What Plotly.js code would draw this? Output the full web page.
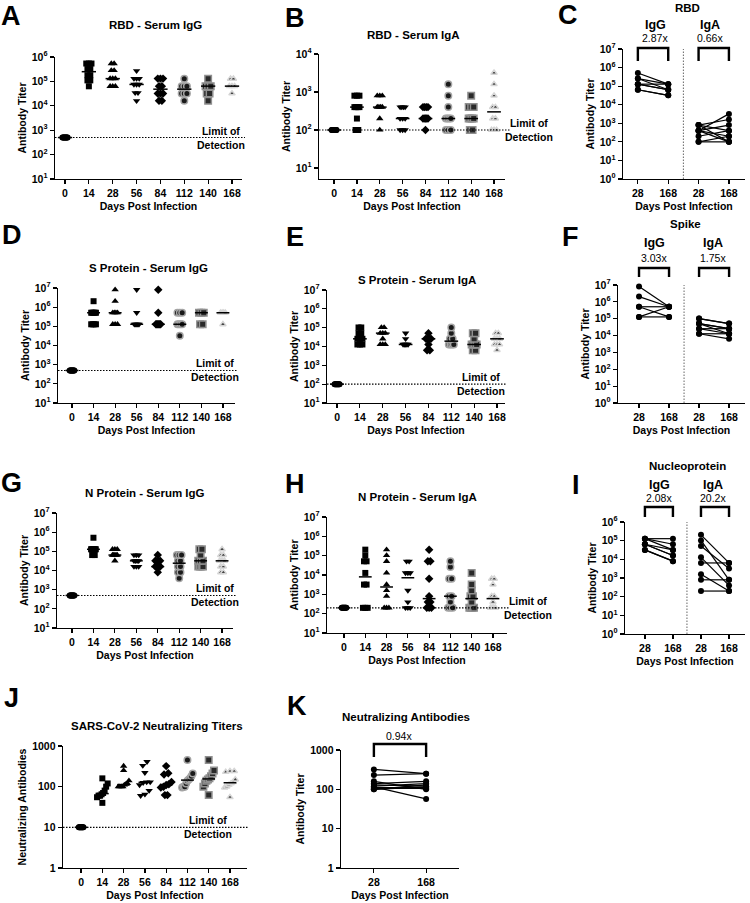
<!DOCTYPE html>
<html><head><meta charset="utf-8">
<script src="https://cdn.plot.ly/plotly-3.0.1.min.js"></script>
<style>html,body{margin:0;padding:0;background:#fff}#chart{width:750px;height:903px}</style>
</head><body><div id="chart"></div>
<script>
const W = 750, H = 903;
const FONT = 'Liberation Sans, Arial, Helvetica, sans-serif';

// ---------- categories / tick labels ----------
const dayLabels = ['0','14','28','56','84','112','140','168'];
const pairLabels = ['28','168','28','168'];
const pairLabelsK = ['28','168'];

// ---------- A: RBD - Serum IgG ----------
const rbdIgG_d0   = [500,500,500,500,500,500,500,500,500,500];
const rbdIgG_d14  = [540000,540000,540000,320000,320000,180000,180000,110000,110000,63000];
const rbdIgG_d28  = [540000,540000,280000,280000,130000,130000,130000,63000,63000,63000];
const rbdIgG_d56  = [270000,130000,130000,130000,75000,75000,75000,34000,34000,16000];
const rbdIgG_d84  = [130000,130000,130000,64000,64000,32000,32000,32000,16000,16000];
const rbdIgG_d112 = [128000,64000,64000,64000,32000,32000,32000,16000];
const rbdIgG_d140 = [128000,64000,64000,64000,32000,32000,16000];
const rbdIgG_d168 = [128000,128000,64000,64000,64000,32000];

// ---------- B: RBD - Serum IgA ----------
const rbdIgA_d0   = [100,100,100,100,100,100,100,100,100,100];
const rbdIgA_d14  = [800,800,800,400,400,400,400,200,100,100];
const rbdIgA_d28  = [800,800,800,400,400,400,400,200,100];
const rbdIgA_d56  = [400,400,400,400,200,200,200,100,100,100];
const rbdIgA_d84  = [400,400,400,400,200,200,200,200,200,100];
const rbdIgA_d112 = [1600,800,400,200,200,200,200,100,100,100];
const rbdIgA_d140 = [800,400,400,400,200,200,200,200,100,100];
const rbdIgA_d168 = [3200,1600,800,400,400,200,200,100,100,100];

// ---------- C: RBD paired 28 vs 168 ----------
const cIgG28  = [512000,256000,256000,128000,128000,128000,64000,64000];
const cIgG168 = [128000,128000,64000,128000,64000,64000,32000,32000];
const cIgA28  = [400,800,400,200,800,400,100,800,400,100];
const cIgA168 = [3200,1600,800,400,400,200,200,100,100,100];
const cFold = ['2.87x','0.66x'];

// ---------- D: S Protein - Serum IgG ----------
const sIgG_d0   = [500,500,500,500,500,500,500,500,500,500];
const sIgG_d14  = [2048000,512000,512000,512000,512000,512000,128000,128000,128000,128000];
const sIgG_d28  = [8192000,2048000,512000,512000,512000,512000,128000,128000,128000];
const sIgG_d56  = [8192000,512000,128000,128000,128000,128000,128000,128000];
const sIgG_d84  = [8192000,512000,128000,128000,128000,128000,128000,128000];
const sIgG_d112 = [512000,512000,512000,128000,128000,128000,128000,32000];
const sIgG_d140 = [512000,512000,512000,128000,128000];
const sIgG_d168 = [512000,512000,512000,512000,128000];

// ---------- E: S Protein - Serum IgA ----------
const sIgA_d0   = [100,100,100,100,100,100,100,100,100,100];
const sIgA_d14  = [102400,102400,51200,51200,25600,25600,25600,12800,12800,12800];
const sIgA_d28  = [102400,102400,51200,51200,51200,25600,12800,12800,12800];
const sIgA_d56  = [51200,25600,12800,12800,12800,12800,12800];
const sIgA_d84  = [51200,25600,25600,25600,25600,12800,6400,6400];
const sIgA_d112 = [102400,51200,25600,25600,12800,12800,12800,12800];
const sIgA_d140 = [51200,51200,25600,12800,12800,12800,12800,6400,6400];
const sIgA_d168 = [51200,51200,25600,25600,25600,12800,12800,12800,6400];

// ---------- F: Spike paired ----------
const fIgG28  = [8192000,2048000,512000,512000,128000,128000];
const fIgG168 = [512000,512000,512000,128000,512000,128000];
const fIgA28  = [102400,102400,51200,51200,25600,25600,12800,12800,51200];
const fIgA168 = [51200,51200,25600,25600,12800,25600,12800,6400,12800];
const fFold = ['3.03x','1.75x'];

// ---------- G: N Protein - Serum IgG ----------
const nIgG_d0   = [500,500,500,500,500,500,500,500,500,500];
const nIgG_d14  = [512000,128000,128000,128000,128000,128000,128000,128000,64000,64000];
const nIgG_d28  = [128000,128000,128000,64000,64000,64000,64000,64000,32000];
const nIgG_d56  = [64000,64000,64000,32000,32000,32000,32000,16000,16000,16000];
const nIgG_d84  = [64000,32000,32000,32000,16000,16000,16000,16000,8000];
const nIgG_d112 = [64000,64000,64000,32000,32000,16000,16000,8000,8000,4000];
const nIgG_d140 = [128000,128000,64000,32000,32000,32000,16000,16000,16000,16000];
const nIgG_d168 = [128000,64000,64000,32000,32000,32000,16000,16000,8000,8000];

// ---------- H: N Protein - Serum IgA ----------
const nIgA_d0   = [200,200,200,200,200,200,200,200,200,200];
const nIgA_d14  = [204800,102400,51200,51200,12800,3200,3200,200,200,200];
const nIgA_d28  = [204800,102400,51200,12800,3200,1600,800,200,200,200];
const nIgA_d56  = [51200,51200,12800,12800,12800,1600,400,200,200,200];
const nIgA_d84  = [204800,51200,51200,6400,800,400,400,200,200,200];
const nIgA_d112 = [51200,25600,6400,6400,800,800,400,200,200,200];
const nIgA_d140 = [12800,3200,1600,800,800,400,200,200,200,200];
const nIgA_d168 = [6400,6400,3200,800,800,400,200,200,200,200];

// ---------- I: Nucleoprotein paired ----------
const iIgG28  = [128000,128000,128000,64000,64000,64000,32000,32000];
const iIgG168 = [128000,64000,32000,32000,16000,16000,8000,8000];
const iIgA28  = [204800,102400,51200,12800,6400,1600,800,200];
const iIgA168 = [6400,800,3200,400,6400,200,800,200];
const iFold = ['2.08x','20.2x'];

// ---------- J: SARS-CoV-2 Neutralizing Titers ----------
const nt_d0   = [10,10,10,10,10,10,10,10,10,10];
const nt_d14  = [160,120,100,80,70,65,60,60,55,40];
const nt_d28  = [320,250,140,120,115,110,100,100,100,100];
const nt_d56  = [410,330,220,130,130,125,110,80,65,60];
const nt_d84  = [320,215,200,130,115,110,100,95,62,62];
const nt_d112 = [450,210,180,160,150,140,120,100,100,95];
const nt_d140 = [450,250,210,180,160,150,140,120,100,62];
const nt_d168 = [240,240,230,150,130,120,110,100,95,55];

// ---------- K: Neutralizing Antibodies paired ----------
const kNt28  = [320,230,160,140,130,120,115,110,105,100,100];
const kNt168 = [250,250,100,160,120,140,57,110,105,115,130];
const kFold = ['0.94x'];

// ---------- limits of detection ----------
const lodA = 500, lodB = 100, lodD = 500, lodE = 100, lodG = 500, lodH = 200, lodJ = 10;

// =================================================================
const traces = [], shapes = [], annotations = [];
const layout = {
  width: W, height: H, margin: {l:0, r:0, t:0, b:0},
  paper_bgcolor: '#fff', plot_bgcolor: 'rgba(0,0,0,0)', showlegend: false,
  font: {family: FONT, color: '#000'}, shapes, annotations
};
const PX = x => x / W, PY = y => 1 - y / H;

const STY = [
  {symbol:'circle', size:6, color:'#000', lc:'#000', lw:0},
  {symbol:'square', size:6, color:'#000', lc:'#000', lw:0},
  {symbol:'triangle-up', size:6.5, color:'#000', lc:'#000', lw:0},
  {symbol:'triangle-down', size:6.5, color:'#000', lc:'#000', lw:0},
  {symbol:'diamond', size:6.5, color:'#000', lc:'#000', lw:0},
  {symbol:'circle', size:6.5, color:'#1a1a1a', lc:'#a4a4a4', lw:1.5},
  {symbol:'square', size:6.5, color:'#2a2a2a', lc:'#909090', lw:1.5},
  {symbol:'triangle-up', size:5.5, color:'#444', lc:'#d6d6d6', lw:1.5}
];

function median(a){
  const s = a.slice().sort((p,q)=>p-q), n = s.length;
  return n % 2 ? s[(n-1)/2] : (s[n/2-1] + s[n/2]) / 2;
}

function swarm(vals, center, thr, stepNear, spanNear){
  const s = vals.slice().sort((p,q)=>p-q);
  const clusters = []; let cur = [s[0]];
  for (let k = 1; k < s.length; k++){
    if (Math.log10(s[k]) - Math.log10(cur[cur.length-1]) < thr) cur.push(s[k]);
    else { clusters.push(cur); cur = [s[k]]; }
  }
  clusters.push(cur);
  const x = [], y = [];
  clusters.forEach(c => {
    const n = c.length;
    const same = c.every(v => v === c[0]);
    let step = 0;
    if (n > 1) step = same ? Math.min(0.12, 0.22/(n-1)) : Math.min(stepNear, spanNear/(n-1));
    c.forEach((v,k) => { x.push(center + (k-(n-1)/2)*step); y.push(v); });
  });
  return {x, y};
}

function sfx(n){ return n === 1 ? '' : String(n); }

function logTicks(lo, hi, plain){
  const v = [], t = [];
  for (let k = lo; k <= hi; k++){ v.push(Math.pow(10,k)); t.push(plain ? String(Math.pow(10,k)) : '10<sup>'+k+'</sup>'); }
  return {v, t};
}

const tickFont = {family: FONT, size: 10.5, color: '#000', weight: 'bold'};
const titleFont = {family: FONT, size: 10.5, color: '#000', weight: 'bold'};

function axes(n, c){
  const s = sfx(n);
  const lt = logTicks(c.tlo, c.thi, c.plain);
  layout['xaxis'+s] = {
    domain: [PX(c.x0), PX(c.x1)], range: c.xr, anchor: 'y'+s,
    showline: true, linecolor: '#000', linewidth: 1.4,
    ticks: 'outside', ticklen: 4, tickwidth: 1.2, tickcolor: '#000',
    tickmode: 'array', tickvals: c.tv, ticktext: c.tt, tickfont: tickFont,
    showgrid: false, zeroline: false, automargin: false, fixedrange: true,
    title: {text: 'Days Post Infection', font: titleFont, standoff: 4}
  };
  layout['yaxis'+s] = {
    domain: [PY(c.yb), PY(c.yt)], range: c.yr, type: 'log', anchor: 'x'+s,
    showline: true, linecolor: '#000', linewidth: 1.4,
    ticks: 'outside', ticklen: 4, tickwidth: 1.2, tickcolor: '#000',
    tickmode: 'array', tickvals: lt.v, ticktext: lt.t, tickfont: tickFont,
    showgrid: false, zeroline: false, automargin: false, fixedrange: true,
    title: {text: c.ytitle, font: titleFont, standoff: 3}
  };
}

function dotPanel(n, groups, opt){
  const s = sfx(n);
  groups.forEach((vals, i) => {
    const st = STY[i];
    const p = swarm(vals, i, opt.thr, opt.stepNear, opt.spanNear);
    traces.push({type:'scatter', mode:'markers', x:p.x, y:p.y, xaxis:'x'+s, yaxis:'y'+s,
      marker:{symbol:st.symbol, size:st.size, color:st.color, line:{color:st.lc, width:st.lw}},
      hoverinfo:'skip', cliponaxis:false});
  });
  const mx = [], my = [];
  groups.forEach((vals, i) => { const m = median(vals); mx.push(i-0.3, i+0.3, null); my.push(m, m, null); });
  traces.push({type:'scatter', mode:'lines', x:mx, y:my, xaxis:'x'+s, yaxis:'y'+s,
    line:{color:'#000', width:1.5}, hoverinfo:'skip'});
}

function pairPanel(n, a, b, x0){
  const s = sfx(n);
  for (let k = 0; k < a.length; k++){
    traces.push({type:'scatter', mode:'lines+markers', x:[x0, x0+1], y:[a[k], b[k]],
      xaxis:'x'+s, yaxis:'y'+s, line:{color:'#000', width:1.2},
      marker:{symbol:'circle', size:6, color:'#000'}, hoverinfo:'skip', cliponaxis:false});
  }
}

function ann(text, x, y, size, bold, extra){
  annotations.push(Object.assign({text, xref:'paper', yref:'paper', x:PX(x), y:PY(y),
    showarrow:false, xanchor:'center', yanchor:'middle',
    font:{family:FONT, size, color:'#000', weight: bold ? 'bold' : 'normal'}}, extra || {}));
}

function lod(n, val, xs, xe, cx){
  const s = sfx(n);
  shapes.push({type:'line', xref:'paper', yref:'y'+s, x0:PX(xs), x1:PX(xe),
    y0:val, y1:val, line:{color:'#000', width:1.1, dash:'1.5px,1.5px'}});
  annotations.push({text:'Limit of<br>Detection', xref:'paper', yref:'y'+s, x:PX(cx), y:Math.log10(val),
    showarrow:false, xanchor:'center', yanchor:'middle', align:'center',
    font:{family:FONT, size:10.5, color:'#000', weight:'bold'}});
}

function bracket(n, xa, xb, top, bot){
  const s = sfx(n);
  shapes.push({type:'path', xref:'x'+s, yref:'paper',
    path:`M ${xa},${PY(bot)} L ${xa},${PY(top)} L ${xb},${PY(top)} L ${xb},${PY(bot)}`,
    line:{color:'#000', width:2.4}});
}

function separator(n){
  const s = sfx(n);
  shapes.push({type:'line', xref:'x'+s, yref:'y'+s+' domain', x0:1.5, x1:1.5, y0:0, y1:1,
    line:{color:'#666', width:1, dash:'1.5px,1.5px'}});
}

const dayTv = [0,1,2,3,4,5,6,7];
const dotOpt = {thr:0.05, stepNear:0.12, spanNear:0.22};
const ntOpt = {thr:0.1, stepNear:0.2, spanNear:0.5};

// ---- A ----
axes(1, {x0:55, x1:242, yt:57, yb:179, xr:[-0.42,7.42], yr:[1,6], tlo:1, thi:6, tv:dayTv, tt:dayLabels, ytitle:'Antibody Titer'});
dotPanel(1, [rbdIgG_d0, rbdIgG_d14, rbdIgG_d28, rbdIgG_d56, rbdIgG_d84, rbdIgG_d112, rbdIgG_d140, rbdIgG_d168], dotOpt);
lod(1, lodA, 55, 245, 221);
ann('A', 11, 16, 27, true); ann('RBD - Serum IgG', 155, 25, 11.5, true);

// ---- B ----
axes(2, {x0:319, x1:505, yt:54, yb:179, xr:[-0.66,7.48], yr:[0.71,4], tlo:1, thi:4, tv:dayTv, tt:dayLabels, ytitle:'Antibody Titer'});
dotPanel(2, [rbdIgA_d0, rbdIgA_d14, rbdIgA_d28, rbdIgA_d56, rbdIgA_d84, rbdIgA_d112, rbdIgA_d140, rbdIgA_d168], dotOpt);
lod(2, lodB, 319, 510, 529);
ann('B', 295, 18, 27, true); ann('RBD - Serum IgA', 413, 35, 11.5, true);

// ---- C ----
axes(3, {x0:623, x1:745, yt:49, yb:179, xr:[-0.49,3.53], yr:[0,7], tlo:0, thi:7, tv:[0,1,2,3], tt:pairLabels, ytitle:'Antibody Titer'});
pairPanel(3, cIgG28, cIgG168, 0); pairPanel(3, cIgA28, cIgA168, 2);
separator(3); bracket(3, 0, 1, 48, 61); bracket(3, 2, 3, 48, 61);
ann('C', 568, 15, 27, true); ann('RBD', 687, 8, 11.5, true);
ann('IgG', 655, 25, 12.5, true); ann('IgA', 710, 25, 12.5, true);
ann(cFold[0], 655, 38, 10.5, false); ann(cFold[1], 710, 38, 10.5, false);

// ---- D ----
axes(4, {x0:58, x1:235, yt:288, yb:403, xr:[-0.65,7.56], yr:[1,7], tlo:1, thi:7, tv:dayTv, tt:dayLabels, ytitle:'Antibody Titer'});
dotPanel(4, [sIgG_d0, sIgG_d14, sIgG_d28, sIgG_d56, sIgG_d84, sIgG_d112, sIgG_d140, sIgG_d168], dotOpt);
lod(4, lodD, 58, 238, 215);
ann('D', 12, 235, 27, true); ann('S Protein - Serum IgG', 148, 268, 11.5, true);

// ---- E ----
axes(5, {x0:327, x1:505, yt:290, yb:403, xr:[-0.44,7.35], yr:[1,7], tlo:1, thi:7, tv:dayTv, tt:dayLabels, ytitle:'Antibody Titer'});
dotPanel(5, [sIgA_d0, sIgA_d14, sIgA_d28, sIgA_d56, sIgA_d84, sIgA_d112, sIgA_d140, sIgA_d168], dotOpt);
lod(5, lodE, 327, 507, 481);
ann('E', 295, 237, 27, true); ann('S Protein - Serum IgA', 417, 280, 11.5, true);

// ---- F ----
axes(6, {x0:618, x1:745, yt:285, yb:403, xr:[-0.7,3.53], yr:[0,7], tlo:0, thi:7, tv:[0,1,2,3], tt:pairLabels, ytitle:'Antibody Titer'});
pairPanel(6, fIgG28, fIgG168, 0); pairPanel(6, fIgA28, fIgA168, 2);
separator(6); bracket(6, 0, 1, 268, 277); bracket(6, 2, 3, 268, 277);
ann('F', 570, 237, 27, true); ann('Spike', 685, 224, 11.5, true);
ann('IgG', 654, 243, 12.5, true); ann('IgA', 713, 243, 12.5, true);
ann(fFold[0], 654, 258, 10.5, false); ann(fFold[1], 713, 258, 10.5, false);

// ---- G ----
axes(7, {x0:57, x1:233, yt:513, yb:628, xr:[-0.7,7.51], yr:[1,7], tlo:1, thi:7, tv:dayTv, tt:dayLabels, ytitle:'Antibody Titer'});
dotPanel(7, [nIgG_d0, nIgG_d14, nIgG_d28, nIgG_d56, nIgG_d84, nIgG_d112, nIgG_d140, nIgG_d168], dotOpt);
lod(7, lodG, 57, 236, 215);
ann('G', 11, 483, 27, true); ann('N Protein - Serum IgG', 145, 493, 11.5, true);

// ---- H ----
axes(8, {x0:327, x1:507, yt:517, yb:633, xr:[-0.8,7.66], yr:[1,7], tlo:1, thi:7, tv:dayTv, tt:dayLabels, ytitle:'Antibody Titer'});
dotPanel(8, [nIgA_d0, nIgA_d14, nIgA_d28, nIgA_d56, nIgA_d84, nIgA_d112, nIgA_d140, nIgA_d168], dotOpt);
lod(8, lodH, 327, 510, 528);
ann('H', 295, 484, 27, true); ann('N Protein - Serum IgA', 417, 497, 11.5, true);

// ---- I ----
axes(9, {x0:625, x1:745, yt:522, yb:634, xr:[-0.71,3.57], yr:[0,6], tlo:0, thi:6, tv:[0,1,2,3], tt:pairLabels, ytitle:'Antibody Titer'});
pairPanel(9, iIgG28, iIgG168, 0); pairPanel(9, iIgA28, iIgA168, 2);
separator(9); bracket(9, 0, 1, 507, 517); bracket(9, 2, 3, 507, 517);
ann('I', 576, 485, 27, true); ann('Nucleoprotein', 687, 466, 11.5, true);
ann('IgG', 659, 485, 12.5, true); ann('IgA', 713, 485, 12.5, true);
ann(iFold[0], 659, 498, 10.5, false); ann(iFold[1], 713, 498, 10.5, false);

// ---- J ----
axes(10, {x0:63, x1:247, yt:746, yb:868, xr:[-0.85,7.8], yr:[0,3], tlo:0, thi:3, plain:true, tv:dayTv, tt:dayLabels, ytitle:'Neutralizing Antibodies'});
dotPanel(10, [nt_d0, nt_d14, nt_d28, nt_d56, nt_d84, nt_d112, nt_d140, nt_d168], ntOpt);
lod(10, lodJ, 63, 249, 208);
ann('J', 11, 698, 27, true); ann('SARS-CoV-2 Neutralizing Titers', 157, 726, 11.5, true);

// ---- K ----
axes(11, {x0:341, x1:459, yt:750, yb:868, xr:[-0.63,1.63], yr:[0,3], tlo:0, thi:3, plain:true, tv:[0,1], tt:pairLabelsK, ytitle:'Antibody Titer'});
pairPanel(11, kNt28, kNt168, 0);
bracket(11, 0, 1, 744, 757);
ann('K', 297, 706, 27, true); ann('Neutralizing Antibodies', 406, 717, 11.5, true);
ann(kFold[0], 399, 736, 10.5, false);

Plotly.newPlot('chart', traces, layout, {staticPlot:true, displayModeBar:false});
</script>
</body></html>
